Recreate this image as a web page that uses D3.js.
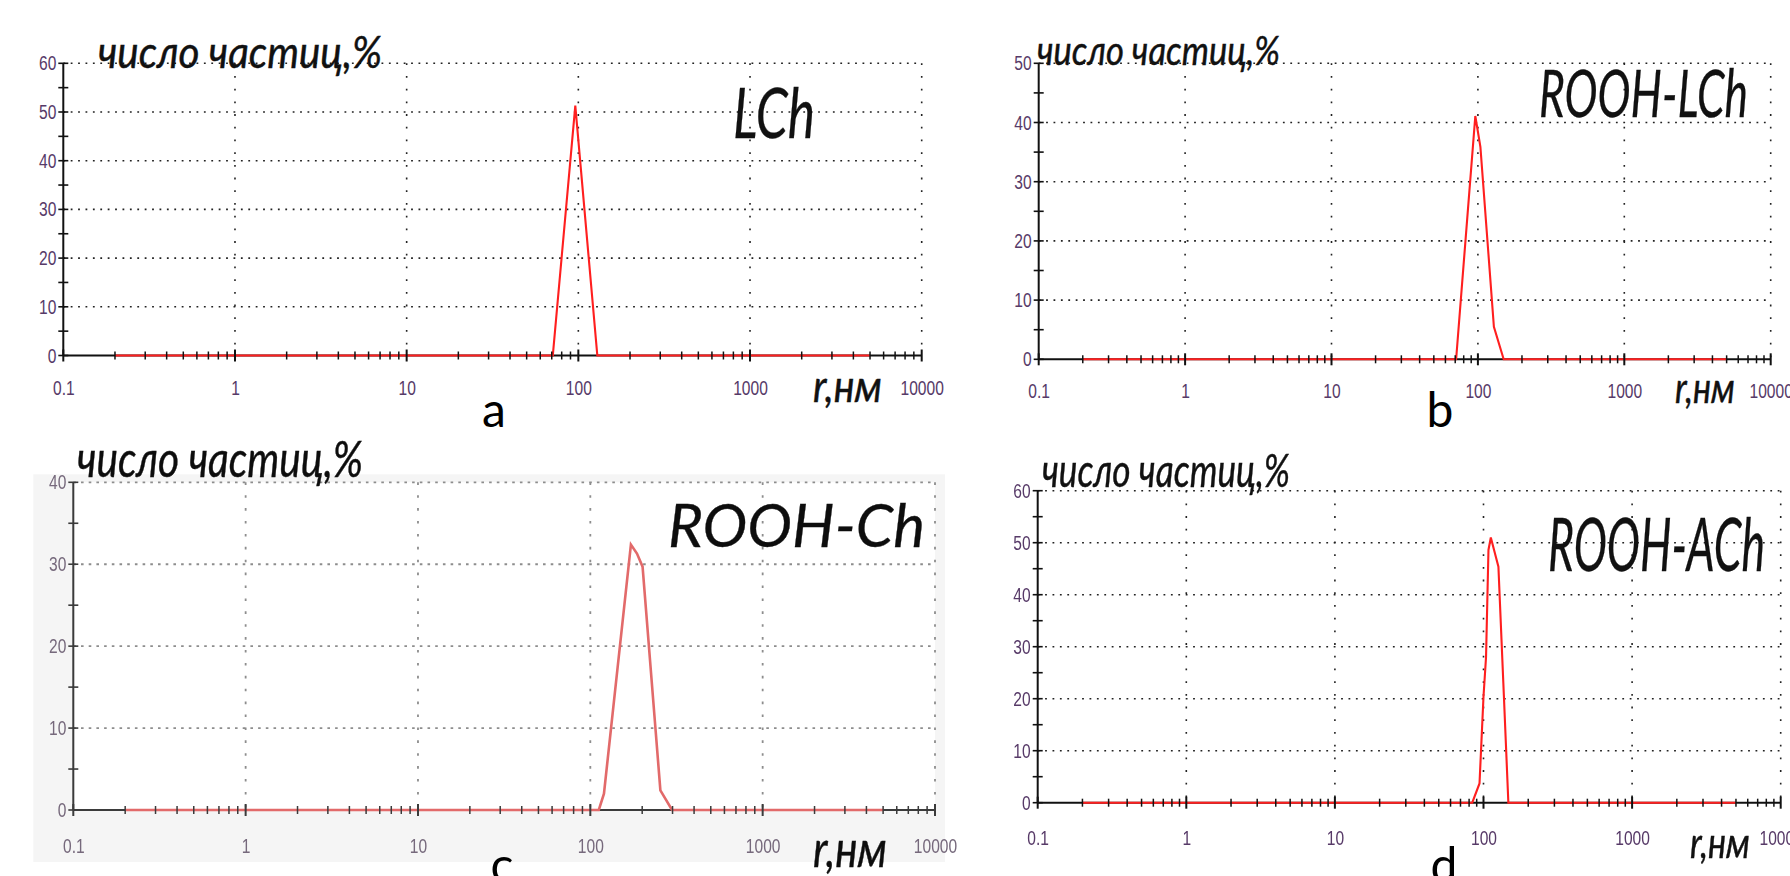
<!DOCTYPE html>
<html>
<head>
<meta charset="utf-8">
<script src="https://cdn.jsdelivr.net/npm/d3@7"></script>
<style>
  html, body { margin: 0; padding: 0; background: #fff; overflow: hidden; }
  svg { display: block; }
</style>
</head>
<body>
<svg id="fig" width="1790" height="876"></svg>
<script>
// Number-weighted particle size distributions measured by DLS
// x: hydrodynamic radius r (nm, log scale); y: number of particles (%)

const xTickValues = [0.1, 1, 10, 100, 1000, 10000];
const xTickLabels = ["0.1", "1", "10", "100", "1000", "10000"];

const yTicksA = [0, 10, 20, 30, 40, 50, 60];
const yTicksB = [0, 10, 20, 30, 40, 50];
const yTicksC = [0, 10, 20, 30, 40];
const yTicksD = [0, 10, 20, 30, 40, 50, 60];

const sampleNames = ["LCh", "ROOH-LCh", "ROOH-Ch", "ROOH-ACh"];
const panelLetters = ["a", "b", "c", "d"];
const yTitle = "число частиц,%";
const xTitle = "r,нм";

// radius, nm  /  fraction of particles, %
const radiusA = [0.2, 71, 96, 129, 5000];
const countA  = [0, 0, 51.3, 0, 0];

const radiusB = [0.2, 71, 96, 104, 128.6, 150, 5000];
const countB  = [0, 0, 41.1, 35.9, 5.5, 0, 0];

const radiusC = [0.2, 112, 120, 172, 186.5, 201, 255, 298, 5000];
const countC  = [0, 0, 2, 32.4, 31.3, 29.7, 2.4, 0, 0];

const radiusD = [0.2, 84, 94, 100, 104, 108, 112, 126, 136, 147, 5000];
const countD  = [0, 0, 3.7, 20.4, 28, 48.6, 51, 45.4, 23, 0, 0];

// Panel frames and text placement (pixels)
const panels = [
  { left: 63.3, right: 921.7, bottom: 355.5, top: 63.3, yTicks: yTicksA, radius: radiusA, count: countA,
    title: { x: 98, y: 68, size: 45, w: 284 }, name: { x: 733, y: 138, size: 70, w: 82 },
    xt: { x: 813, y: 402, size: 44, w: 69 }, letter: { x: 494, y: 427 }, labelGap: 39, soft: false },
  { left: 1038.7, right: 1770.7, bottom: 359.3, top: 63.3, yTicks: yTicksB, radius: radiusB, count: countB,
    title: { x: 1037, y: 65, size: 40, w: 243 }, name: { x: 1539, y: 117, size: 65, w: 209 },
    xt: { x: 1675, y: 403, size: 42, w: 60 }, letter: { x: 1440, y: 427 }, labelGap: 39, soft: false },
  { left: 73.3, right: 935, bottom: 810, top: 482.3, yTicks: yTicksC, radius: radiusC, count: countC,
    title: { x: 77, y: 477, size: 50, w: 286 }, name: { x: 668, y: 547, size: 60, w: 257 },
    xt: { x: 813, y: 867, size: 50, w: 74 }, letter: { x: 502, y: 882 }, labelGap: 43, soft: true },
  { left: 1037.7, right: 1780.7, bottom: 802.7, top: 490.7, yTicks: yTicksD, radius: radiusD, count: countD,
    title: { x: 1042, y: 487, size: 47, w: 248 }, name: { x: 1548, y: 571, size: 73, w: 217 },
    xt: { x: 1690, y: 858, size: 42, w: 60 }, letter: { x: 1444, y: 882 }, labelGap: 42, soft: false }
];

const svg = d3.select("#fig");
const defs = svg.append("defs");
defs.append("filter").attr("id", "soft")
  .attr("x", "-5%").attr("y", "-5%").attr("width", "110%").attr("height", "110%")
  .append("feGaussianBlur").attr("stdDeviation", 0.75);

const tickFont = "'Liberation Sans', Arial, sans-serif";
const textFont = "Lato, 'Open Sans', 'Noto Sans', sans-serif";

function fitText(sel, width) {
  sel.attr("textLength", width).attr("lengthAdjust", "spacingAndGlyphs");
}

// narrow tick digits: squeeze the natural width horizontally
function narrow(sel, factor) {
  sel.each(function () {
    const w = this.getComputedTextLength();
    d3.select(this).attr("textLength", w * factor).attr("lengthAdjust", "spacingAndGlyphs");
  });
}

panels.forEach((p, i) => {
  const g = svg.append("g");
  if (p.soft) g.attr("filter", "url(#soft)");

  const gridColor = p.soft ? "#8d8d8d" : "#222";
  const axisColor = p.soft ? "#3a3a3a" : "#111";
  const lineColor = p.soft ? "#e26a6a" : "#ff1f1f";
  const labelColor = p.soft ? "#76697c" : "#573a68";

  const x = d3.scaleLog().domain([0.1, 10000]).range([p.left, p.right]);
  const yMax = d3.max(p.yTicks);
  const y = d3.scaleLinear().domain([0, yMax]).range([p.bottom, p.top]);

  if (p.soft) {
    g.append("rect").attr("x", p.left - 40).attr("y", p.top - 8)
      .attr("width", p.right - p.left + 50).attr("height", p.bottom - p.top + 60)
      .attr("fill", "#f5f5f5");
    g.append("rect").attr("x", p.left).attr("y", p.top)
      .attr("width", p.right - p.left).attr("height", p.bottom - p.top)
      .attr("fill", "#fff");
  }

  // dotted grid
  g.append("g").selectAll("line")
    .data(p.yTicks.filter(v => v > 0)).join("line")
    .attr("x1", p.left).attr("x2", p.right)
    .attr("y1", d => y(d)).attr("y2", d => y(d))
    .attr("stroke", gridColor).attr("stroke-width", p.soft ? 1.8 : 1.6)
    .attr("stroke-dasharray", p.soft ? "2.6 5.1" : "1.8 5.6");
  g.append("g").selectAll("line")
    .data(xTickValues.filter(v => v > 0.1)).join("line")
    .attr("x1", d => x(d)).attr("x2", d => x(d))
    .attr("y1", p.top).attr("y2", p.bottom)
    .attr("stroke", gridColor).attr("stroke-width", p.soft ? 1.8 : 1.6)
    .attr("stroke-dasharray", p.soft ? "2.6 10.3" : "1.8 10.9");

  // axis lines
  g.append("line").attr("x1", p.left).attr("x2", p.right)
    .attr("y1", p.bottom).attr("y2", p.bottom)
    .attr("stroke", axisColor).attr("stroke-width", 2);
  g.append("line").attr("x1", p.left).attr("x2", p.left)
    .attr("y1", p.bottom).attr("y2", p.top)
    .attr("stroke", axisColor).attr("stroke-width", 2);

  // distribution curve
  const pts = p.radius.map((r, k) => [r, p.count[k]]);
  g.append("path").datum(pts)
    .attr("fill", "none").attr("stroke", lineColor)
    .attr("stroke-width", p.soft ? 2.6 : 2.1).attr("stroke-linejoin", "miter")
    .attr("d", d3.line().x(d => x(d[0])).y(d => y(d[1])));

  // crossing tick marks
  const decades = new Set(xTickValues);
  g.append("g").selectAll("line")
    .data(x.ticks()).join("line")
    .attr("x1", d => x(d)).attr("x2", d => x(d))
    .attr("y1", d => p.bottom - (decades.has(d) ? 6 : 4))
    .attr("y2", d => p.bottom + (decades.has(d) ? 6 : 4))
    .attr("stroke", axisColor).attr("stroke-width", d => decades.has(d) ? 2 : 1.5);
  g.append("g").selectAll("line")
    .data(y.ticks(yMax / 5)).join("line")
    .attr("x1", p.left - 5).attr("x2", p.left + 5)
    .attr("y1", d => y(d)).attr("y2", d => y(d))
    .attr("stroke", axisColor).attr("stroke-width", 1.6);

  // tick labels
  const xa = g.append("g").attr("transform", `translate(0,${p.bottom})`)
    .call(d3.axisBottom(x).tickValues(xTickValues)
      .tickFormat((d, k) => xTickLabels[k]).tickSize(0).tickPadding(p.labelGap - 14.5));
  const ya = g.append("g").attr("transform", `translate(${p.left},0)`)
    .call(d3.axisLeft(y).tickValues(p.yTicks).tickFormat(d3.format("d"))
      .tickSize(0).tickPadding(7));
  [xa, ya].forEach(a => {
    a.select(".domain").remove();
    a.selectAll("text").attr("fill", labelColor)
      .style("font-family", tickFont).style("font-size", "20.5px")
      .call(narrow, 0.76);
  });

  // titles
  const italic = (t, cfg, str) => t.append("text").attr("x", cfg.x).attr("y", cfg.y)
    .attr("fill", "#111").attr("stroke", "#111").attr("stroke-width", 0.45)
    .style("font-family", textFont).style("font-style", "italic")
    .style("font-size", cfg.size + "px").text(str)
    .call(fitText, cfg.w);
  italic(g, p.title, yTitle);
  italic(g, p.name, sampleNames[i]).attr("stroke-width", 0.3);
  italic(g, p.xt, xTitle);

  svg.append("text").attr("x", p.letter.x).attr("y", p.letter.y)
    .attr("text-anchor", "middle").attr("fill", "#000")
    .style("font-family", textFont).style("font-size", "48px").text(panelLetters[i]);
});
</script>
</body>
</html>
